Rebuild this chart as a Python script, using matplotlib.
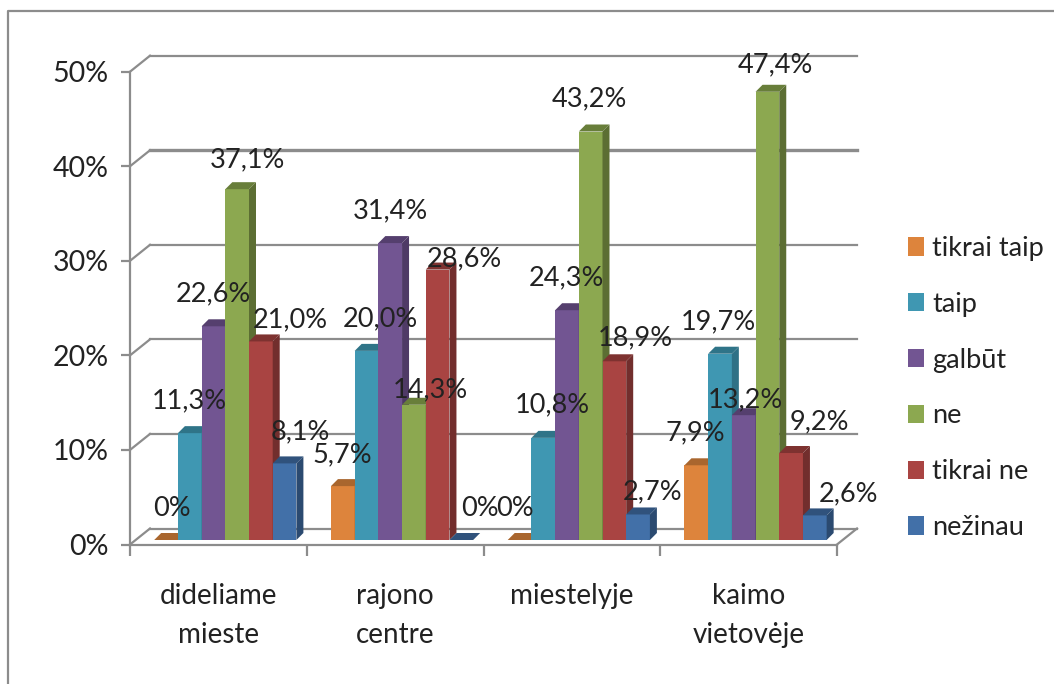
import numpy as np
import matplotlib
matplotlib.use("Agg")
import matplotlib.pyplot as plt
from matplotlib.lines import Line2D

plt.rcParams["font.family"] = ["Lato", "DejaVu Sans"]

categories = ["dideliame\nmieste", "rajono\ncentre", "miestelyje", "kaimo\nvietovėje"]
series_names = ["tikrai taip", "taip", "galbūt", "ne", "tikrai ne", "nežinau"]
tikrai_taip = [0, 5.7, 0, 7.9]
taip = [11.3, 20.0, 10.8, 19.7]
galbut = [22.6, 31.4, 24.3, 13.2]
ne = [37.1, 14.3, 43.2, 47.4]
tikrai_ne = [21.0, 28.6, 18.9, 9.2]
nezinau = [8.1, 0, 2.7, 2.6]
y_ticks = [0, 10, 20, 30, 40, 50]

# front, top, side
COLORS = [
    ("#DD843C", "#A9662E", "#A9662E"),
    ("#3F97B2", "#2F7488", "#2F7186"),
    ("#725592", "#553F6E", "#4F3A66"),
    ("#8CA850", "#687E3A", "#5C6E33"),
    ("#A94442", "#7E3230", "#722E2D"),
    ("#4270A8", "#30527C", "#2B4A70"),
]
GREY = "#8C8C8C"
TEXT = "#222222"

W, H = 1054, 684
CAT_PX = 176.75
PCT_PX = 9.456
BAR_W = 23.7
GROUP_START = 24.2
BAR_LIFT = 4.5
BAR_DEPTH = 7
WALL_DX, WALL_DY = 20, 16

# label nudges in pixels from the middle of each bar's top edge, per category
LABEL_NUDGE = [
    [(6, 32), (0, 32), (0, 32), (10, 29), (29, 22), (15.5, 32)],
    [(-1, 31), (13.5, 32), (0, 32), (17, 15), (26.5, 11), (18.5, 32)],
    [(-4.5, 32), (9, 33), (-1, 32), (-1.5, 33), (21, 23), (15, 23)],
    [(-1, 32), (-2, 32), (1.5, 15), (8, 27), (28, 31), (33.5, 22)],
]


def px_x(p):
    return p / CAT_PX


def px_y(p):
    return p / PCT_PX


fig = plt.figure(figsize=(W / 100, H / 100), dpi=100)
ax = fig.add_axes([130 / W, (H - 544.5) / H, 707 / W, 472.8 / H])
ax.set_xlim(0, len(categories))
ax.set_ylim(0, 50)
ax.patch.set_alpha(0)

# outer frame, only top and left survive in the picture
fig.add_artist(Line2D([8 / W, 8 / W, 1], [0, 1 - 11 / H, 1 - 11 / H], color=GREY, lw=1.6))

# back wall gridlines and their slants
dx, dy = px_x(WALL_DX), px_y(WALL_DY)
right = len(categories)
for t in y_ticks:
    lw = 2.4 if t == 40 else 1.6
    ax.plot([0, dx], [t, t + dy], color=GREY, lw=1.6, clip_on=False, zorder=1)
    ax.plot([dx, right + dx], [t + dy, t + dy], color=GREY, lw=lw, clip_on=False, zorder=1)
ax.plot([right, right + dx], [0, dy], color=GREY, lw=1.6, clip_on=False, zorder=1)

for s in ["top", "right"]:
    ax.spines[s].set_visible(False)
for s in ["left", "bottom"]:
    ax.spines[s].set_color(GREY)
    ax.spines[s].set_linewidth(1.6)

ax.set_yticks(y_ticks)
ax.set_yticklabels(["{}%".format(t) for t in y_ticks], fontsize=20.5, color=TEXT)
ax.tick_params(axis="y", length=6.5, width=1.6, color=GREY, pad=9)
ax.set_xticks(np.arange(len(categories) + 1))
ax.set_xticklabels([])
ax.tick_params(axis="x", which="major", length=8, width=1.6, color=GREY)
ax.set_xticks(np.arange(len(categories)) + 0.5, minor=True)
ax.set_xticklabels(categories, minor=True, fontsize=20, color=TEXT, linespacing=1.6)
ax.tick_params(axis="x", which="minor", length=0, pad=28)

series = [tikrai_taip, taip, galbut, ne, tikrai_ne, nezinau]
bar_w = px_x(BAR_W)
lift = px_y(BAR_LIFT)
ddx, ddy = px_x(BAR_DEPTH), px_y(BAR_DEPTH)
handles = []
for j, values in enumerate(series):
    front, top, side = COLORS[j]
    centers = np.arange(len(categories)) + px_x(GROUP_START + BAR_W * (j + 0.5))
    bars = ax.bar(centers, values, width=bar_w, bottom=lift, color=front, clip_on=False,
                  zorder=3 + j, edgecolor="none", label=series_names[j])
    handles.append(bars)
    for i, v in enumerate(values):
        x0 = centers[i] - bar_w / 2
        x1 = centers[i] + bar_w / 2
        y0 = lift
        y1 = lift + v
        ax.fill([x0, x1, x1 + ddx, x0 + ddx], [y1, y1, y1 + ddy, y1 + ddy], color=top, lw=0,
                clip_on=False, zorder=3 + j)
        ax.fill([x1, x1 + ddx, x1 + ddx, x1], [y0, y0 + ddy, y1 + ddy, y1], color=side, lw=0,
                clip_on=False, zorder=3 + j)
        nudge = LABEL_NUDGE[i][j]
        txt = "{}%".format(0) if v == 0 else "{:.1f}%".format(v).replace(".", ",")
        ax.annotate(txt, (centers[i], y1), xytext=(nudge[0] * 0.72, nudge[1] * 0.72),
                    textcoords="offset points", ha="center", va="center", fontsize=19.5,
                    color=TEXT, zorder=20, annotation_clip=False)

ax.legend(handles=handles, loc="center left", bbox_to_anchor=(908 / W, (H - 388) / H),
          bbox_transform=fig.transFigure, frameon=False, fontsize=19.5, labelcolor=TEXT,
          handlelength=0.6, handleheight=0.67, handletextpad=0.3, labelspacing=1.14,
          borderpad=0, borderaxespad=0)

fig.savefig("out.png", dpi=100)
